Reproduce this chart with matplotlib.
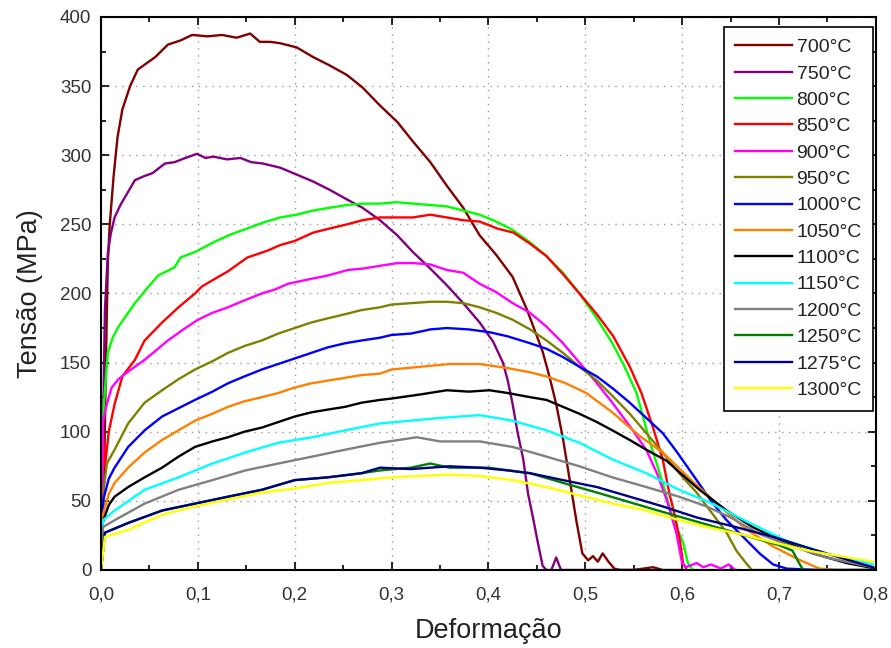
"""Curvas tensão x deformação a quente (700 a 1300 °C).

Gera out.png com as 14 curvas lidas do ensaio de tração.
"""

import matplotlib

matplotlib.use("Agg")
import matplotlib.pyplot as plt
from matplotlib.ticker import FuncFormatter, MultipleLocator

# Deformação / Tensão (MPa) por temperatura
eps_700 = [0.0, 0.003, 0.005, 0.007, 0.009, 0.013, 0.017, 0.022, 0.030, 0.038, 0.046, 0.056, 0.069,
           0.082, 0.094, 0.110, 0.125, 0.140, 0.154, 0.164, 0.175, 0.185, 0.202, 0.219, 0.236, 0.254,
           0.270, 0.288, 0.306, 0.322, 0.340, 0.357, 0.374, 0.391, 0.408, 0.425, 0.440, 0.456, 0.463,
           0.470, 0.477, 0.484, 0.491, 0.497, 0.503, 0.508, 0.513, 0.518, 0.524, 0.530, 0.536, 0.550,
           0.570, 0.580, 0.600]
sig_700 = [0, 60, 150, 222, 250, 285, 313, 333, 350, 362, 366, 371, 380,
           383, 387, 386, 387, 385, 388, 382, 382, 381, 378, 371, 365, 358,
           349, 336, 324, 310, 295, 278, 262, 242, 228, 212, 188, 158, 140,
           120, 95, 65, 35, 12, 7, 10, 6, 12, 6, 1, 0, 0,
           2, 0, 0]

eps_750 = [0.0, 0.002, 0.004, 0.007, 0.010, 0.014, 0.020, 0.025, 0.035, 0.045, 0.053, 0.066, 0.076,
           0.087, 0.099, 0.108, 0.116, 0.130, 0.144, 0.155, 0.167, 0.185, 0.202, 0.219, 0.236, 0.254,
           0.270, 0.288, 0.306, 0.322, 0.340, 0.357, 0.374, 0.391, 0.405, 0.415, 0.420, 0.425, 0.430,
           0.436, 0.441, 0.446, 0.451, 0.456, 0.460, 0.465, 0.470, 0.475, 0.500, 0.560]
sig_750 = [0, 100, 188, 229, 243, 255, 264, 270, 282, 285, 287, 294, 295,
           298, 301, 298, 299, 297, 298, 295, 294, 291, 286, 281, 275, 268,
           262, 253, 242, 230, 218, 206, 193, 179, 165, 150, 137, 120, 100,
           80, 55, 38, 20, 3, 0, 0, 9, 0, 0, 0]

eps_800 = [0.0, 0.002, 0.004, 0.007, 0.012, 0.018, 0.025, 0.035, 0.049, 0.059, 0.076, 0.082, 0.097,
           0.116, 0.135, 0.151, 0.166, 0.185, 0.202, 0.219, 0.236, 0.254, 0.270, 0.288, 0.305, 0.322,
           0.340, 0.357, 0.374, 0.391, 0.408, 0.425, 0.443, 0.460, 0.477, 0.494, 0.511, 0.528, 0.540,
           0.553, 0.567, 0.580, 0.590, 0.601, 0.606, 0.611, 0.630, 0.660]
sig_800 = [0, 110, 130, 157, 168, 176, 183, 193, 205, 213, 219, 226, 230,
           237, 243, 247, 251, 255, 257, 260, 262, 264, 265, 265, 266, 265,
           264, 263, 260, 257, 252, 246, 237, 227, 215, 200, 183, 164, 148,
           128, 92, 63, 38, 20, 5, 0, 0, 0]

eps_850 = [0.0, 0.002, 0.004, 0.008, 0.014, 0.022, 0.035, 0.045, 0.063, 0.080, 0.097, 0.104, 0.121,
           0.131, 0.151, 0.172, 0.185, 0.200, 0.219, 0.236, 0.254, 0.270, 0.288, 0.305, 0.322, 0.340,
           0.357, 0.374, 0.391, 0.409, 0.426, 0.443, 0.460, 0.477, 0.494, 0.512, 0.529, 0.546, 0.558,
           0.570, 0.580, 0.587, 0.593, 0.598, 0.601, 0.605]
sig_850 = [0, 100, 75, 100, 120, 140, 152, 166, 179, 190, 200, 205, 212,
           216, 226, 231, 235, 238, 244, 247, 250, 253, 255, 255, 255, 257,
           255, 253, 252, 247, 244, 236, 227, 214, 200, 185, 169, 147, 128,
           103, 80, 55, 38, 20, 5, 0]

eps_900 = [0.0, 0.002, 0.006, 0.011, 0.018, 0.025, 0.035, 0.045, 0.057, 0.069, 0.085, 0.100, 0.115,
           0.131, 0.148, 0.166, 0.180, 0.193, 0.213, 0.234, 0.255, 0.270, 0.288, 0.306, 0.322, 0.340,
           0.357, 0.374, 0.391, 0.408, 0.425, 0.443, 0.460, 0.477, 0.494, 0.511, 0.528, 0.546, 0.563,
           0.574, 0.584, 0.594, 0.600, 0.604, 0.615, 0.622, 0.630, 0.640, 0.648, 0.655]
sig_900 = [0, 108, 120, 132, 138, 142, 147, 152, 159, 166, 174, 181, 186,
           190, 195, 200, 203, 207, 210, 213, 217, 218, 220, 222, 222, 221,
           217, 215, 207, 201, 193, 186, 176, 164, 150, 136, 121, 104, 87,
           70, 51, 27, 5, 2, 5, 2, 4, 1, 4, 0]

eps_950 = [0.0, 0.003, 0.006, 0.014, 0.028, 0.045, 0.063, 0.080, 0.097, 0.115, 0.131, 0.148, 0.166,
           0.183, 0.200, 0.217, 0.234, 0.252, 0.269, 0.288, 0.300, 0.320, 0.340, 0.357, 0.374, 0.391,
           0.408, 0.425, 0.443, 0.460, 0.477, 0.494, 0.512, 0.528, 0.546, 0.563, 0.580, 0.597, 0.615,
           0.632, 0.646, 0.656, 0.666, 0.672, 0.700]
sig_950 = [0, 60, 77, 87, 106, 121, 130, 138, 145, 151, 157, 162, 166,
           171, 175, 179, 182, 185, 188, 190, 192, 193, 194, 194, 193, 190,
           186, 181, 174, 166, 157, 147, 137, 126, 113, 99, 85, 70, 56,
           40, 27, 14, 5, 0, 0]

eps_1000 = [0.0, 0.002, 0.008, 0.014, 0.028, 0.045, 0.063, 0.080, 0.097, 0.115, 0.131, 0.148, 0.166,
            0.183, 0.200, 0.217, 0.234, 0.252, 0.269, 0.288, 0.300, 0.320, 0.340, 0.357, 0.380, 0.401,
            0.420, 0.443, 0.460, 0.477, 0.494, 0.512, 0.529, 0.546, 0.563, 0.580, 0.594, 0.608, 0.620,
            0.632, 0.646, 0.663, 0.680, 0.694, 0.708, 0.740, 0.800]
sig_1000 = [0, 50, 66, 74, 89, 101, 111, 117, 123, 129, 135, 140, 145,
            149, 153, 157, 161, 164, 166, 168, 170, 171, 174, 175, 174, 172,
            169, 164, 160, 154, 147, 140, 131, 121, 110, 99, 86, 72, 60,
            48, 36, 24, 12, 4, 1, 0, 0]

eps_1050 = [0.0, 0.002, 0.008, 0.014, 0.028, 0.045, 0.063, 0.080, 0.097, 0.115, 0.131, 0.148, 0.166,
            0.183, 0.200, 0.217, 0.234, 0.252, 0.269, 0.288, 0.300, 0.330, 0.360, 0.391, 0.420, 0.443,
            0.460, 0.480, 0.501, 0.528, 0.556, 0.580, 0.611, 0.639, 0.667, 0.694, 0.722, 0.742, 0.760,
            0.800]
sig_1050 = [0, 40, 55, 63, 74, 85, 94, 101, 108, 113, 118, 122, 125,
            128, 132, 135, 137, 139, 141, 142, 145, 147, 149, 149, 146, 143,
            140, 135, 128, 114, 97, 85, 64, 46, 29, 17, 7, 1, 0,
            0]

eps_1100 = [0.0, 0.002, 0.008, 0.014, 0.028, 0.045, 0.063, 0.080, 0.097, 0.115, 0.131, 0.148, 0.166,
            0.183, 0.200, 0.217, 0.234, 0.252, 0.269, 0.288, 0.300, 0.330, 0.357, 0.380, 0.401, 0.420,
            0.443, 0.460, 0.477, 0.494, 0.512, 0.528, 0.546, 0.563, 0.584, 0.600, 0.618, 0.646, 0.673,
            0.700, 0.735, 0.770, 0.800]
sig_1100 = [0, 35, 47, 53, 60, 67, 74, 82, 89, 93, 96, 100, 103,
            107, 111, 114, 116, 118, 121, 123, 124, 127, 130, 129, 130, 128,
            125, 123, 118, 113, 107, 101, 94, 87, 79, 69, 58, 43, 31,
            22, 12, 5, 1]

eps_1150 = [0.0, 0.002, 0.014, 0.045, 0.080, 0.115, 0.149, 0.183, 0.218, 0.252, 0.288, 0.320, 0.350,
            0.391, 0.425, 0.460, 0.494, 0.528, 0.563, 0.597, 0.628, 0.667, 0.708, 0.749, 0.797]
sig_1150 = [0, 36, 43, 58, 67, 77, 85, 92, 96, 101, 106, 108, 110,
            112, 108, 101, 92, 80, 70, 58, 49, 35, 21, 12, 4]

eps_1200 = [0.0, 0.002, 0.014, 0.045, 0.080, 0.115, 0.149, 0.183, 0.218, 0.252, 0.288, 0.326, 0.350,
            0.391, 0.425, 0.460, 0.494, 0.528, 0.563, 0.597, 0.625, 0.650, 0.680, 0.710, 0.749, 0.797]
sig_1200 = [0, 31, 36, 48, 58, 65, 72, 77, 82, 87, 92, 96, 93,
            93, 89, 82, 75, 67, 60, 53, 46, 38, 26, 18, 9, 2]

eps_1250 = [0.0, 0.004, 0.028, 0.063, 0.097, 0.131, 0.166, 0.200, 0.234, 0.269, 0.288, 0.320, 0.340,
            0.360, 0.400, 0.443, 0.477, 0.512, 0.546, 0.580, 0.615, 0.650, 0.680, 0.700, 0.714, 0.720,
            0.725, 0.800]
sig_1250 = [0, 27, 34, 43, 48, 53, 58, 65, 67, 70, 72, 74, 77,
            74, 74, 70, 63, 56, 49, 42, 35, 28, 22, 18, 14, 6,
            0, 0]

eps_1275 = [0.0, 0.004, 0.028, 0.063, 0.097, 0.131, 0.166, 0.200, 0.234, 0.269, 0.288, 0.320, 0.360,
            0.391, 0.420, 0.443, 0.477, 0.512, 0.546, 0.580, 0.615, 0.650, 0.694, 0.730, 0.763, 0.797]
sig_1275 = [0, 27, 34, 43, 48, 53, 58, 65, 67, 70, 74, 73, 75,
            74, 72, 70, 65, 60, 53, 46, 38, 32, 24, 16, 9, 2]

eps_1300 = [0.0, 0.004, 0.028, 0.063, 0.097, 0.131, 0.166, 0.200, 0.234, 0.269, 0.300, 0.357, 0.391,
            0.425, 0.460, 0.494, 0.528, 0.563, 0.597, 0.626, 0.660, 0.694, 0.730, 0.763, 0.797]
sig_1300 = [0, 24, 29, 40, 46, 51, 56, 59, 63, 65, 67, 69, 68,
            65, 60, 54, 48, 43, 36, 31, 26, 20, 14, 10, 6]

SERIES = [
    ("700°C", "#800000", eps_700, sig_700),
    ("750°C", "#800080", eps_750, sig_750),
    ("800°C", "#00ff00", eps_800, sig_800),
    ("850°C", "#ff0000", eps_850, sig_850),
    ("900°C", "#ff00ff", eps_900, sig_900),
    ("950°C", "#808000", eps_950, sig_950),
    ("1000°C", "#0000ff", eps_1000, sig_1000),
    ("1050°C", "#ff8000", eps_1050, sig_1050),
    ("1100°C", "#000000", eps_1100, sig_1100),
    ("1150°C", "#00ffff", eps_1150, sig_1150),
    ("1200°C", "#808080", eps_1200, sig_1200),
    ("1250°C", "#008000", eps_1250, sig_1250),
    ("1275°C", "#000080", eps_1275, sig_1275),
    ("1300°C", "#ffff00", eps_1300, sig_1300),
]

plt.rcParams["font.family"] = ["Liberation Sans", "DejaVu Sans"]

fig = plt.figure(figsize=(8.91, 6.48), dpi=100)
ax = fig.add_axes([0.1134, 0.1204, 0.8695, 0.8534])

for label, color, x, y in SERIES:
    ax.plot(x, y, color=color, lw=1.7, label=label)

ax.set_xlim(0, 0.8)
ax.set_ylim(0, 400)
ax.xaxis.set_major_locator(MultipleLocator(0.1))
ax.xaxis.set_minor_locator(MultipleLocator(0.05))
ax.yaxis.set_major_locator(MultipleLocator(50))
ax.yaxis.set_minor_locator(MultipleLocator(25))
ax.xaxis.set_major_formatter(FuncFormatter(lambda v, _: f"{v:.1f}".replace(".", ",")))

ax.tick_params(which="both", direction="in", top=True, right=True, width=1.2,
               labelsize=13.5, labelcolor="#333333")
ax.tick_params(axis="x", pad=12)
ax.tick_params(axis="y", pad=7)
ax.tick_params(which="major", length=6)
ax.tick_params(which="minor", length=3.5)
for sp in ax.spines.values():
    sp.set_linewidth(1.5)

ax.grid(True, which="major", color="#999999", linestyle=(0, (1, 4)), linewidth=1)

ax.set_xlabel("Deformação", fontsize=19.5, color="#222222", labelpad=10)
ax.set_ylabel("Tensão (MPa)", fontsize=19.5, color="#222222", labelpad=12)

leg = ax.legend(loc="upper right", bbox_to_anchor=(0.997, 0.982), fontsize=14,
                frameon=True, fancybox=False, edgecolor="black", framealpha=1,
                handlelength=2.9, handletextpad=0.25, labelspacing=0.45,
                borderpad=0.6, borderaxespad=0)
leg.get_frame().set_linewidth(1.2)
for t in leg.get_texts():
    t.set_color("#222222")

fig.savefig("out.png", dpi=100)
